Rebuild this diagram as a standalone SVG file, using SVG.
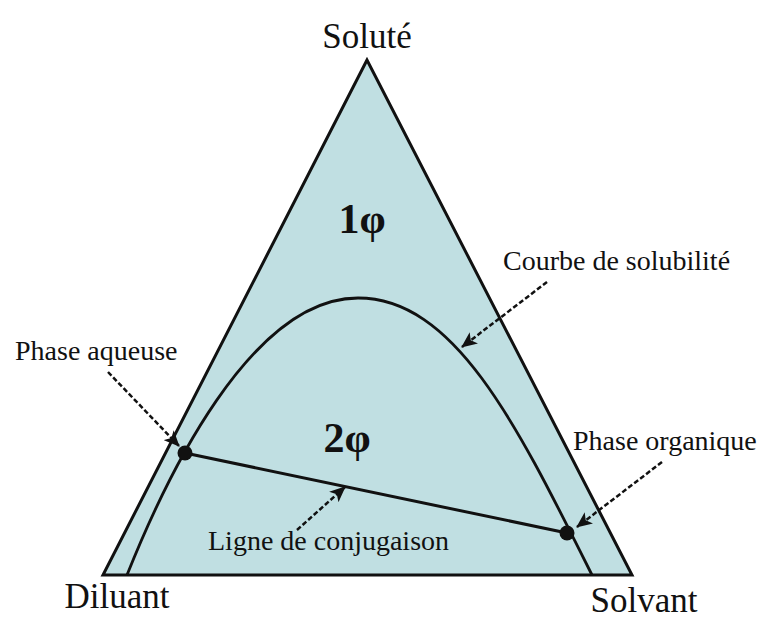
<svg xmlns="http://www.w3.org/2000/svg" width="766" height="621" viewBox="0 0 766 621">
<style>
.lbl{font-family:"Liberation Serif","Times New Roman",serif;fill:#111;}
.big{font-size:35px;}
.sm{font-size:28px;}
.ph{font-size:42px;font-weight:bold;}
.dash{fill:none;stroke:#111;stroke-width:2.5;stroke-dasharray:5 2.5;}
</style>
<defs>
<marker id="ah" markerUnits="userSpaceOnUse" markerWidth="16" markerHeight="14" viewBox="0 0 16 14" refX="15" refY="7" orient="auto">
<path d="M0,0 L16,7 L0,14 L4,7 Z" fill="#111"/>
</marker>
</defs>
<rect width="766" height="621" fill="#fff"/>
<g id="triangle">
<polygon points="367,60 103,575 632,575" fill="#c0dfe2" stroke="#111" stroke-width="3" stroke-linejoin="miter"/>
</g>
<g id="courbe">
<path d="M127,575 C165,480 250,298 358,298 C455,298 517,425 592,575" fill="none" stroke="#111" stroke-width="2.8"/>
</g>
<g id="connectors">
<line x1="185" y1="453" x2="567" y2="533" stroke="#111" stroke-width="3"/>
<line class="dash" x1="108" y1="372" x2="179" y2="446" marker-end="url(#ah)"/>
<line class="dash" x1="547" y1="282" x2="462" y2="347" marker-end="url(#ah)"/>
<line class="dash" x1="662" y1="462" x2="577" y2="527" marker-end="url(#ah)"/>
<line class="dash" x1="297" y1="530" x2="345" y2="487" marker-end="url(#ah)"/>
</g>
<g id="phase-aqueuse-point"><circle cx="185" cy="453" r="7.5" fill="#111"/></g>
<g id="phase-organique-point"><circle cx="567" cy="533" r="7.5" fill="#111"/></g>
<g id="labels">
<text class="lbl big" x="367" y="48" text-anchor="middle">Soluté</text>
<text class="lbl big" x="117" y="608" text-anchor="middle">Diluant</text>
<text class="lbl big" x="644" y="612" text-anchor="middle">Solvant</text>
<text class="lbl sm" x="15" y="360">Phase aqueuse</text>
<text class="lbl sm" x="503" y="270">Courbe de solubilité</text>
<text class="lbl sm" x="573" y="450">Phase organique</text>
<text class="lbl sm" x="208" y="550">Ligne de conjugaison</text>
<text class="lbl ph" x="362" y="233" text-anchor="middle">1φ</text>
<text class="lbl ph" x="347" y="452" text-anchor="middle">2φ</text>
</g>
</svg>
